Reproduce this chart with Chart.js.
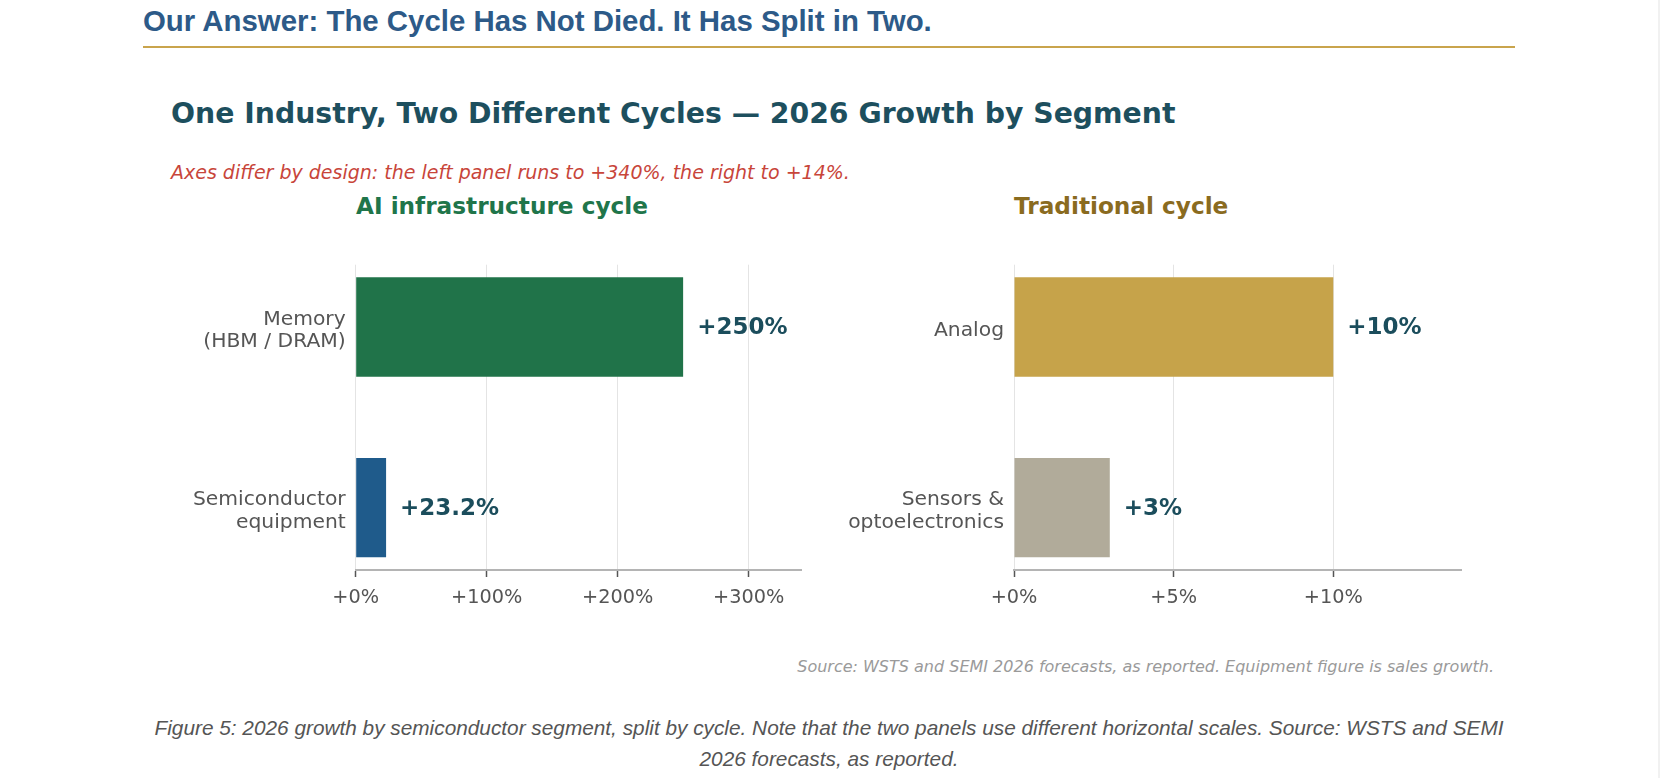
<!DOCTYPE html>
<html>
<head>
<meta charset="utf-8">
<script src="https://cdn.jsdelivr.net/npm/chart.js@4.4.1/dist/chart.umd.min.js"></script>
<style>
  html, body { margin: 0; padding: 0; background: #fff; }
  body { width: 1660px; height: 778px; position: relative; overflow: hidden; }
  .t { position: absolute; line-height: 1; white-space: nowrap; }
  .dj { font-family: "DejaVu Sans", sans-serif; }
  #header { left: 143px; top: 4px; font: bold 29.4px "Liberation Sans", Arial, sans-serif; color: #2d5a88; }
  #rule { position: absolute; left: 143px; top: 46px; width: 1372px; height: 2px; background: #c9a44c; }
  #title { left: 171px; top: 100px; font-size: 28.3px; font-weight: bold; color: #1d4f5e; }
  #subtitle { left: 171px; top: 162.7px; font-size: 19px; font-style: oblique; color: #c8453a; }
  .ptitle { top: 194.3px; font-size: 23.2px; font-weight: bold; }
  #ptLeft { left: 356px; color: #20754a; }
  #ptRight { left: 1014px; color: #8a6b1f; }
  #source { right: 166px; top: 658.8px; font-size: 16px; font-style: oblique; color: #9a9a9a; }
  #caption { position: absolute; left: 143px; width: 1372px; top: 712px; text-align: center;
    font: italic 20.8px/31px "Liberation Sans", Arial, sans-serif; color: #555; }
  .box { position: absolute; top: 250px; height: 370px; }
  #leftBox { left: 150px; width: 661px; }
  #rightBox { left: 790px; width: 681px; }
  #edge { position: absolute; right: 0; top: 0; width: 2px; height: 778px; background: #f1f1f1; }
</style>
</head>
<body>
<div id="header" class="t">Our Answer: The Cycle Has Not Died. It Has Split in Two.</div>
<div id="rule"></div>
<div id="title" class="t dj">One Industry, Two Different Cycles — 2026 Growth by Segment</div>
<div id="subtitle" class="t dj">Axes differ by design: the left panel runs to +340%, the right to +14%.</div>
<div id="ptLeft" class="t dj ptitle">AI infrastructure cycle</div>
<div id="ptRight" class="t dj ptitle">Traditional cycle</div>
<div id="leftBox" class="box"><canvas id="aiChart"></canvas></div>
<div id="rightBox" class="box"><canvas id="tradChart"></canvas></div>
<div id="source" class="t dj">Source: WSTS and SEMI 2026 forecasts, as reported. Equipment figure is sales growth.</div>
<div id="caption">Figure 5: 2026 growth by semiconductor segment, split by cycle. Note that the two panels use different horizontal scales. Source: WSTS and SEMI 2026 forecasts, as reported.</div>
<div id="edge"></div>

<script>
const aiLabels = [["Memory", "(HBM / DRAM)"], ["Semiconductor", "equipment"]];
const aiValues = [250, 23.2];
const aiColors = ["#207349", "#1f5b8b"];
const aiTicks = [0, 100, 200, 300];
const aiMax = 340;

const tradLabels = [["Analog"], ["Sensors &", "optoelectronics"]];
const tradValues = [10, 3];
const tradColors = ["#c6a34a", "#b1ab9a"];
const tradTicks = [0, 5, 10];
const tradMax = 14;

const valueColor = "#1b4d5c";
const labelColor = "#555555";

Chart.defaults.font.family = "'DejaVu Sans', sans-serif";
Chart.defaults.color = labelColor;

const valueLabels = {
  id: "valueLabels",
  afterDatasetsDraw(chart) {
    const ctx = chart.ctx;
    const meta = chart.getDatasetMeta(0);
    const values = chart.data.datasets[0].data;
    ctx.save();
    ctx.font = "bold 23px 'DejaVu Sans', sans-serif";
    ctx.fillStyle = valueColor;
    ctx.textAlign = "left";
    ctx.textBaseline = "middle";
    meta.data.forEach((bar, i) => {
      ctx.fillText("+" + values[i].x + "%", bar.x + 14, bar.y + 1);
    });
    ctx.restore();
  },
};

function makePanel(canvasId, labels, values, colors, ticks, max, axisWidth) {
  new Chart(document.getElementById(canvasId), {
    type: "bar",
    data: {
      datasets: [
        {
          data: values.map((v, i) => ({ x: v, y: i })),
          backgroundColor: colors,
          borderWidth: 0,
          barPercentage: 0.55,
          categoryPercentage: 1,
        },
      ],
    },
    plugins: [valueLabels],
    options: {
      indexAxis: "y",
      responsive: true,
      maintainAspectRatio: false,
      animation: false,
      layout: { padding: { top: 14.7, right: 10, left: 0, bottom: 0 } },
      scales: {
        x: {
          type: "linear",
          min: 0,
          max: max,
          afterBuildTicks: (scale) => {
            scale.ticks = ticks.map((v) => ({ value: v }));
          },
          afterFit: (scale) => {
            scale.height = 50;
            scale.paddingLeft = 0;
            scale.paddingRight = 0;
          },
          ticks: {
            font: { size: 19.3 },
            color: labelColor,
            padding: 9,
            callback: (v) => "+" + v + "%",
          },
          grid: {
            color: "#e4e4e4",
            lineWidth: 1,
            tickColor: "#555",
            tickLength: 7,
            tickWidth: 1.5,
          },
          border: { color: "#b4b4b4", width: 2 },
        },
        y: {
          type: "linear",
          offset: false,
          min: -0.345,
          max: 1.345,
          reverse: true,
          afterBuildTicks: (scale) => {
            scale.ticks = labels.map((l, i) => ({ value: i }));
          },
          afterFit: (scale) => {
            scale.width = axisWidth;
            scale.paddingTop = 0;
            scale.paddingBottom = 0;
          },
          ticks: {
            font: { size: 20.3, lineHeight: 1.1 },
            color: labelColor,
            padding: 10,
            labelOffset: 3.5,
            callback: (v) => labels[v],
          },
          grid: { display: false, drawTicks: false, offset: false },
          border: { display: false },
        },
      },
      plugins: {
        legend: { display: false },
        tooltip: { enabled: false },
      },
    },
  });
}

makePanel("aiChart", aiLabels, aiValues, aiColors, aiTicks, aiMax, 205.7);
makePanel("tradChart", tradLabels, tradValues, tradColors, tradTicks, tradMax, 224);
</script>
</body>
</html>
